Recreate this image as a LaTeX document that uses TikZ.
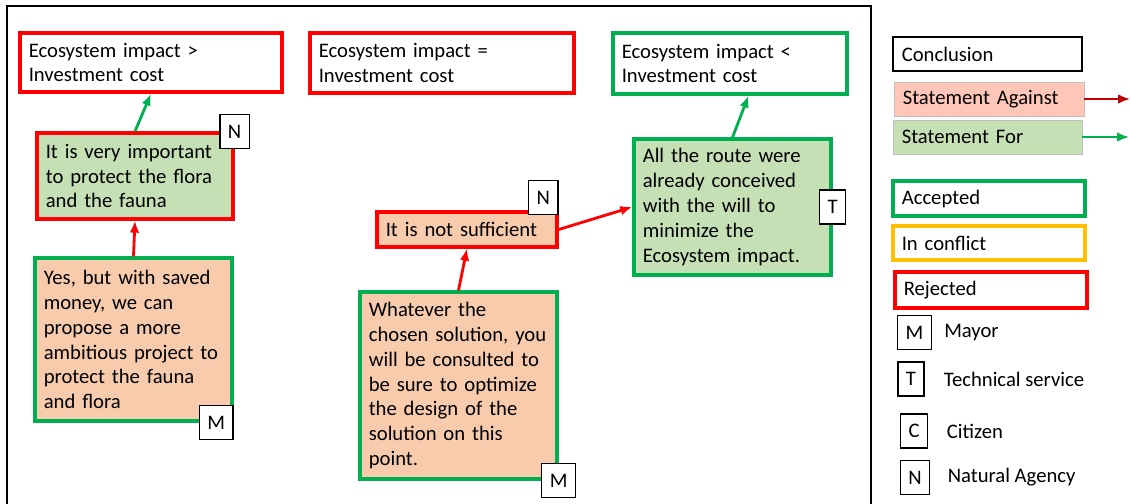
\documentclass[tikz,border=0pt]{standalone}
\usepackage{fontspec}
\setmainfont{Carlito}
\usetikzlibrary{positioning,arrows.meta}
\definecolor{rejred}{HTML}{FF0000}
\definecolor{accgreen}{HTML}{00B050}
\definecolor{confyellow}{HTML}{FFC000}
\definecolor{againstfill}{HTML}{F8CBAD}
\definecolor{forfill}{HTML}{C5E0B4}
\definecolor{legagainst}{HTML}{FFC7B8}
\definecolor{legarrow}{HTML}{C00000}
\tikzset{%
  box/.style={
    rectangle,
    line width=2.3pt,
    inner xsep=0.22cm,
    inner ysep=0pt,
    align=left
  },
  against/.style={box,fill=againstfill},
  for/.style={box,fill=forfill},
  accepted/.style={draw=accgreen},
  rejected/.style={draw=rejred},
  who/.style={
    rectangle,
    draw=black,
    fill=white,
    line width=0.9pt,
    minimum height=0.85cm,
    inner xsep=0.2cm
  },
  whotext/.style={inner sep=0pt},
}

\begin{document}
\begin{tikzpicture}[x=0.025cm,y=-0.025cm,>={Latex[length=3mm,width=2.4mm]},font=\fontsize{14.7pt}{17.7pt}\selectfont]
        \tikzstyle{pro}=[->,draw=accgreen,line width=2pt]
        \tikzstyle{con}=[->,draw=rejred,line width=2pt]
        \useasboundingbox (0,0) rectangle (1131,504);
        \draw[line width=0.9pt] (7,504) |- (871,6) -- (871,504);

        \node[box,rejected,fill=white,text width=6.11cm,minimum height=1.475cm] (c1) at (151,62.5) {Ecosystem impact >\\Investment cost};
        \node[box,rejected,fill=white,text width=6.16cm,minimum height=1.5cm] (c2) at (442,63) {Ecosystem impact =\\Investment cost};
        \node[box,accepted,fill=white,text width=5.41cm,minimum height=1.525cm] (c3) at (730,63.5) {Ecosystem impact <\\Investment cost};

        \node[for,rejected,text width=4.46cm,minimum height=2.15cm] (s1) at (135,176) {It is very important\\to protect the flora\\and the fauna};
        \node[against,accepted,text width=4.485cm,minimum height=4.075cm] (s2) at (133.5,339.5) {Yes, but with saved\\money, we can\\propose a more\\ambitious project to\\protect the fauna\\and flora};
        \node[against,rejected,text width=4.06cm,minimum height=0.875cm] (s3) at (467,229.5) {It is not sufficient};
        \node[for,accepted,text width=4.485cm,minimum height=3.4cm] (s4) at (732.5,207) {All the route were\\already conceived\\with the will to\\minimize the\\Ecosystem impact.};
        \node[against,accepted,text width=4.485cm,minimum height=4.675cm] (s5) at (458.5,385.5) {Whatever the\\chosen solution, you\\will be consulted to\\be sure to optimize\\the design of the\\solution on this\\point.};

        \draw[pro] (s1.north) -- (c1.south);
        \draw[con] (s2.north) -- (s1.south);
        \draw[con] (s5.north) -- (s3.south);
        \draw[con] (s3.east) -- (s4.west);
        \draw[pro] (s4.north) -- (c3.-60);

        \node[who] (n1) at (s1.north east) {N};
        \node[who,anchor=east] (m1) at (s2.south east) {M};
        \node[who,anchor=south east,yshift=-0.125cm] (n2) at (s3.north east) {N};
        \node[who] (t1) at (s4.east) {T};
        \node[who] (m2) at (s5.south east) {M};

        \node[box,draw=black,line width=1pt,text width=4.285cm,minimum height=0.85cm] (lconc) at (987.5,54) {Conclusion};
        \node[box,fill=legagainst,draw=black!25,line width=0.6pt,text width=4.31cm,minimum height=0.85cm] (lagainst) at (989,99) {Statement Against};
        \node[box,fill=forfill,draw=black!25,line width=0.6pt,text width=4.285cm,minimum height=0.85cm] (lfor) at (987.5,137) {Statement For};
        \coordinate (lagainst end) at (1130,99);
        \coordinate (lfor end) at (1129,137);
        \draw[->,draw=legarrow,line width=1.5pt] (lagainst) -- (lagainst end);
        \draw[->,draw=accgreen,line width=1.5pt] (lfor) -- (lfor end);

        \node[box,accepted,text width=4.36cm,minimum height=0.875cm] (lacc) at (989,198.5) {Accepted};
        \node[box,draw=confyellow,text width=4.36cm,minimum height=0.85cm] (lconf) at (989,243) {In conflict};
        \node[box,rejected,text width=4.36cm,minimum height=0.9cm] (lrej) at (991,290) {Rejected};

        \node[who] (lm) at (914.5,332.5) {M};
        \node[whotext,right=0.3cm of lm] (lmayor) {Mayor};
        \node[who] (lt) at (911,379) {T};
        \node[whotext,right=0.47cm of lt] (ltech) {Technical service};
        \node[who] (lc) at (914,431) {C};
        \node[whotext,right=0.46cm of lc] (lcitizen) {Citizen};
        \node[who] (ln) at (915,477.5) {N};
        \node[whotext,right=0.43cm of ln] (lagency) {Natural Agency};
    \end{tikzpicture}
\end{document}
